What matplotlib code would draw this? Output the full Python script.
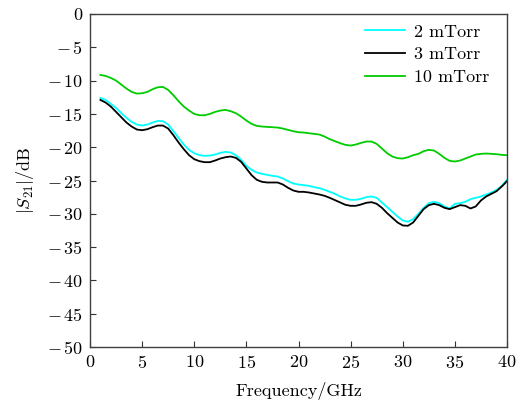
import matplotlib
matplotlib.use("Agg")
import matplotlib.pyplot as plt
from matplotlib.ticker import FuncFormatter, MultipleLocator

plt.rcParams['font.family'] = 'serif'
plt.rcParams['font.serif'] = ['cmr10', 'DejaVu Serif']
plt.rcParams['mathtext.fontset'] = 'cm'
plt.rcParams['axes.unicode_minus'] = False

freq = [1 + 0.5 * i for i in range(79)]

s21_2mtorr = [-12.6, -12.9, -13.5, -14.1, -14.9, -15.6, -16.2, -16.6, -16.75, -16.6,
              -16.3, -16.05, -16.1, -16.6, -17.6, -18.6, -19.6, -20.4, -20.9, -21.2,
              -21.3, -21.25, -21.1, -20.85, -20.7, -20.8, -21.2, -21.9, -22.8, -23.4,
              -23.8, -24.0, -24.15, -24.3, -24.4, -24.7, -25.1, -25.45, -25.6, -25.7,
              -25.8, -26.0, -26.15, -26.4, -26.7, -27.0, -27.4, -27.7, -27.9, -27.9,
              -27.75, -27.5, -27.4, -27.6, -28.3, -29.0, -29.7, -30.4, -31.0, -31.2,
              -30.8, -30.0, -29.1, -28.4, -28.2, -28.4, -28.9, -29.2, -28.5, -28.4,
              -28.2, -27.8, -27.6, -27.4, -27.1, -26.8, -26.4, -25.8, -24.9]

s21_3mtorr = [-12.9, -13.3, -13.9, -14.7, -15.5, -16.3, -16.9, -17.35, -17.45, -17.3,
              -17.0, -16.75, -16.75, -17.2, -18.2, -19.3, -20.3, -21.2, -21.8, -22.1,
              -22.25, -22.25, -22.0, -21.7, -21.5, -21.4, -21.6, -22.2, -23.2, -24.2,
              -24.9, -25.2, -25.3, -25.3, -25.3, -25.6, -26.1, -26.5, -26.7, -26.7,
              -26.8, -26.95, -27.1, -27.3, -27.6, -27.95, -28.3, -28.65, -28.8, -28.8,
              -28.6, -28.35, -28.25, -28.5, -29.1, -29.9, -30.6, -31.3, -31.75, -31.8,
              -31.3, -30.3, -29.3, -28.7, -28.5, -28.7, -29.1, -29.3, -29.0, -28.7,
              -28.8, -29.2, -28.9, -28.0, -27.4, -27.0, -26.6, -25.9, -25.1]

s21_10mtorr = [-9.15, -9.3, -9.6, -10.0, -10.6, -11.2, -11.7, -11.95, -11.9, -11.7,
               -11.3, -11.0, -10.95, -11.4, -12.2, -13.1, -13.9, -14.5, -15.0, -15.2,
               -15.2, -15.0, -14.7, -14.5, -14.4, -14.6, -14.9, -15.4, -16.0, -16.5,
               -16.8, -16.9, -16.95, -17.0, -17.05, -17.2, -17.4, -17.6, -17.75, -17.8,
               -17.9, -18.0, -18.1, -18.4, -18.8, -19.1, -19.4, -19.65, -19.75, -19.6,
               -19.35, -19.15, -19.15, -19.5, -20.2, -20.9, -21.4, -21.65, -21.7, -21.5,
               -21.2, -21.0, -20.6, -20.4, -20.5, -21.0, -21.6, -22.05, -22.15, -22.0,
               -21.7, -21.4, -21.1, -21.0, -20.95, -21.0, -21.05, -21.15, -21.2]

labels = ['2 mTorr', '3 mTorr', '10 mTorr']
colors = ['#00FFFF', '#000000', '#00CC00']

fs = 13

fig = plt.figure(figsize=(5.17, 4.03), dpi=100)
ax = fig.add_axes([90 / 517, 1 - 347 / 403, (507 - 90) / 517, (347 - 14) / 403])

for ys, lab, c in zip([s21_2mtorr, s21_3mtorr, s21_10mtorr], labels, colors):
    ax.plot(freq, ys, color=c, lw=1.3, label=lab, solid_joinstyle='round')

ax.set_xlim(0, 40)
ax.set_ylim(-50, 0)
ax.xaxis.set_major_locator(MultipleLocator(5))
ax.yaxis.set_major_locator(MultipleLocator(5))


def fmt_tick(v, p):
    v = int(round(v))
    if v < 0:
        return r'$-\,%d$' % (-v)
    return r'$%d$' % v


fmt = FuncFormatter(fmt_tick)
ax.xaxis.set_major_formatter(fmt)
ax.yaxis.set_major_formatter(fmt)
ax.tick_params(direction='in', length=4, width=0.8, labelsize=fs, color='#333333',
               top=False, right=False, pad=5)
for s in ax.spines.values():
    s.set_color('#404040')
    s.set_linewidth(1.0)

ax.set_xlabel('Frequency/GHz', fontsize=fs, labelpad=8)
ax.set_ylabel(r'$|S_{21}|$/dB', fontsize=fs, labelpad=8)

leg = ax.legend(loc='upper right', bbox_to_anchor=(1 - 8 / 417, 1.0), frameon=False,
                fontsize=fs, handlelength=2.2, handletextpad=0.5, labelspacing=0.4,
                borderaxespad=0.15)

fig.savefig('out.png', dpi=100)
